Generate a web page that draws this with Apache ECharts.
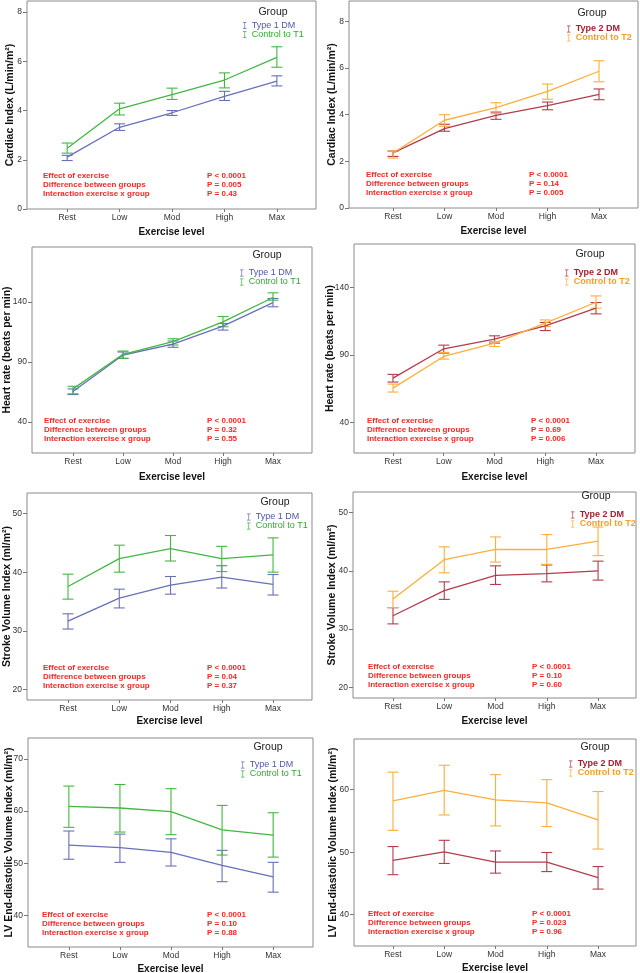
<!DOCTYPE html>
<html><head><meta charset="utf-8">
<script src="https://cdn.jsdelivr.net/npm/echarts@6/dist/echarts.min.js"></script>
<style>html,body{margin:0;padding:0;background:#fff}#c{width:640px;height:973px}</style>
</head><body><div id="c"></div><script>
// ---------- data ----------
const levels = ['Rest', 'Low', 'Mod', 'High', 'Max'];

// Cardiac index (L/min/m²)
const ciT1dmMean = [2.11, 3.32, 3.91, 4.58, 5.19];
const ciT1dmLow  = [1.97, 3.19, 3.80, 4.41, 5.00];
const ciT1dmHigh = [2.18, 3.46, 4.00, 4.78, 5.41];
const ciCtl1Mean = [2.47, 4.07, 4.65, 5.24, 6.16];
const ciCtl1Low  = [2.27, 3.82, 4.45, 4.92, 5.76];
const ciCtl1High = [2.68, 4.30, 4.91, 5.53, 6.59];
const ciT2dmMean = [2.36, 3.40, 3.97, 4.39, 4.87];
const ciT2dmLow  = [2.21, 3.29, 3.80, 4.21, 4.64];
const ciT2dmHigh = [2.44, 3.59, 4.11, 4.54, 5.10];
const ciCtl2Mean = [2.36, 3.76, 4.30, 5.00, 5.86];
const ciCtl2Low  = [2.14, 3.50, 4.04, 4.66, 5.41];
const ciCtl2High = [2.44, 4.00, 4.51, 5.31, 6.31];

// Heart rate (beats per min)
const hrT1dmMean = [65.4, 95.8, 104.9, 119.8, 139.4];
const hrT1dmLow  = [62.9, 93.0, 102.2, 116.5, 135.9];
const hrT1dmHigh = [67.6, 98.3, 107.4, 122.0, 142.8];
const hrCtl1Mean = [67.6, 96.4, 106.9, 123.4, 143.6];
const hrCtl1Low  = [63.5, 93.0, 104.1, 119.3, 141.4];
const hrCtl1High = [69.8, 99.1, 109.3, 127.8, 147.5];
const hrT2dmMean = [72.8, 94.6, 101.7, 111.6, 124.7];
const hrT2dmLow  = [69.9, 91.4, 98.8, 108.1, 120.5];
const hrT2dmHigh = [75.6, 97.3, 104.2, 114.1, 128.9];
const hrCtl2Mean = [65.4, 88.9, 98.8, 113.6, 129.1];
const hrCtl2Low  = [62.5, 86.9, 96.3, 111.1, 124.7];
const hrCtl2High = [68.4, 91.9, 100.0, 116.0, 133.8];

// Stroke volume index (ml/m²)
const sviT1dmMean = [31.65, 35.57, 37.8, 39.15, 37.9];
const sviT1dmLow  = [30.3, 33.9, 36.25, 37.3, 36.1];
const sviT1dmHigh = [32.9, 37.1, 39.26, 41.1, 39.6];
const sviCtl1Mean = [37.56, 42.3, 44.0, 42.3, 42.95];
const sviCtl1Low  = [35.4, 40.0, 41.9, 40.1, 40.0];
const sviCtl1High = [39.66, 44.6, 46.25, 44.4, 45.85];
const sviT2dmMean = [32.3, 36.6, 39.2, 39.5, 40.0];
const sviT2dmLow  = [30.9, 35.1, 37.66, 38.1, 38.4];
const sviT2dmHigh = [33.67, 38.1, 40.85, 41.0, 41.65];
const sviCtl2Mean = [35.15, 41.9, 43.65, 43.65, 45.1];
const sviCtl2Low  = [33.7, 39.65, 41.5, 41.1, 42.6];
const sviCtl2High = [36.5, 44.1, 45.8, 46.2, 47.5];

// LV end-diastolic volume index (ml/m²)
const lvT1dmMean = [53.5, 53.0, 52.1, 49.6, 47.4];
const lvT1dmLow  = [50.8, 50.2, 49.5, 46.5, 44.5];
const lvT1dmHigh = [56.2, 55.6, 54.7, 52.5, 50.2];
const lvCtl1Mean = [60.9, 60.6, 59.9, 56.4, 55.4];
const lvCtl1Low  = [56.9, 56.0, 55.5, 51.6, 51.2];
const lvCtl1High = [64.8, 65.1, 64.3, 61.1, 59.7];
const lvT2dmMean = [48.7, 50.05, 48.4, 48.4, 45.95];
const lvT2dmLow  = [46.4, 48.2, 46.65, 46.9, 44.1];
const lvT2dmHigh = [50.9, 51.9, 50.2, 49.95, 47.7];
const lvCtl2Mean = [58.2, 59.9, 58.35, 57.9, 55.15];
const lvCtl2Low  = [53.5, 55.95, 54.2, 54.1, 50.5];
const lvCtl2High = [62.8, 63.9, 62.4, 61.6, 59.7];

// tick labels
const ciTicks = [0, 2, 4, 6, 8];
const hrTicks = [40, 90, 140];
const sviTicks = [20, 30, 40, 50];
const lvT1Ticks = [40, 50, 60, 70];
const lvT2Ticks = [40, 50, 60];

// statistics text
const statLabels = ['Effect of exercise', 'Difference between groups', 'Interaction exercise x group'];
const pCiT1 = ['P < 0.0001', 'P = 0.005', 'P = 0.43'];
const pCiT2 = ['P < 0.0001', 'P = 0.14', 'P = 0.005'];
const pHrT1 = ['P < 0.0001', 'P = 0.32', 'P = 0.55'];
const pHrT2 = ['P < 0.0001', 'P = 0.69', 'P = 0.006'];
const pSviT1 = ['P < 0.0001', 'P = 0.04', 'P = 0.37'];
const pSviT2 = ['P < 0.0001', 'P = 0.10', 'P = 0.60'];
const pLvT1 = ['P < 0.0001', 'P = 0.10', 'P = 0.88'];
const pLvT2 = ['P < 0.0001', 'P = 0.023', 'P = 0.96'];

const groupNamesT1 = ['Type 1 DM', 'Control to T1'];
const groupNamesT2 = ['Type 2 DM', 'Control to T2'];
const yTitles = ['Cardiac Index (L/min/m²)', 'Heart rate (beats per min)', 'Stroke Volume Index (ml/m²)', 'LV End-diastolic Volume Index (ml/m²)'];
const xTitle = 'Exercise level';

// ---------- styles / layout ----------
const FONT = 'Liberation Sans, Arial, sans-serif';
const colT1dm = '#6870b8', colCtl1 = '#42b842', colT2dm = '#b43c4c', colCtl2 = '#ffae3c';
const txtT1dm = '#4e58a8', txtCtl1 = '#30aa30', txtT2dm = '#a81e30', txtCtl2 = '#ff9e1e';

const panels = [
  { box:[27,1,289,208], y:[0,8.45], x:[-0.766,4.746], ticks:ciTicks, title:yTitles[0], yGap:11, xGap:18,
    groups:groupNamesT1, series:[[ciT1dmMean,ciT1dmLow,ciT1dmHigh],[ciCtl1Mean,ciCtl1Low,ciCtl1High]], p:pCiT1,
    legend:[243,21], group:[273,12], ann:[43,176,207] },
  { box:[349,1,289,207], y:[0,8.87], x:[-0.854,4.757], ticks:ciTicks, title:yTitles[0], yGap:11, xGap:18,
    groups:groupNamesT2, series:[[ciT2dmMean,ciT2dmLow,ciT2dmHigh],[ciCtl2Mean,ciCtl2Low,ciCtl2High]], p:pCiT2,
    legend:[567,24.5], group:[592,13], ann:[366,175,529] },
  { box:[32,247,280,206], y:[14.3,185.6], x:[-0.82,4.78], ticks:hrTicks, title:yTitles[1], yGap:19, xGap:19.5,
    groups:groupNamesT1, series:[[hrT1dmMean,hrT1dmLow,hrT1dmHigh],[hrCtl1Mean,hrCtl1Low,hrCtl1High]], p:pHrT1,
    legend:[240,268.5], group:[267,255], ann:[44,421,207] },
  { box:[354,244,281,209], y:[17.3,172.3], x:[-0.768,4.768], ticks:hrTicks, title:yTitles[1], yGap:18, xGap:19.5,
    groups:groupNamesT2, series:[[hrT2dmMean,hrT2dmLow,hrT2dmHigh],[hrCtl2Mean,hrCtl2Low,hrCtl2High]], p:pHrT2,
    legend:[565,268.5], group:[590,254], ann:[367,421,531] },
  { box:[27,493,285,207], y:[18.2,53.5], x:[-0.8,4.76], ticks:sviTicks, title:yTitles[2], yGap:14, xGap:16.5,
    groups:groupNamesT1, series:[[sviT1dmMean,sviT1dmLow,sviT1dmHigh],[sviCtl1Mean,sviCtl1Low,sviCtl1High]], p:pSviT1,
    legend:[247,512.5], group:[275,502], ann:[43,668,207] },
  { box:[353,492,283,206], y:[18.2,53.5], x:[-0.78,4.74], ticks:sviTicks, title:yTitles[2], yGap:15, xGap:18,
    groups:groupNamesT2, series:[[sviT2dmMean,sviT2dmLow,sviT2dmHigh],[sviCtl2Mean,sviCtl2Low,sviCtl2High]], p:pSviT2,
    legend:[571,510.5], group:[596,496], ann:[368,667,532] },
  { box:[28,738,285,209], y:[34,74], x:[-0.8,4.78], ticks:lvT1Ticks, title:yTitles[3], yGap:13, xGap:17.5,
    groups:groupNamesT1, series:[[lvT1dmMean,lvT1dmLow,lvT1dmHigh],[lvCtl1Mean,lvCtl1Low,lvCtl1High]], p:pLvT1,
    legend:[241,760.5], group:[268,747], ann:[42,915,207] },
  { box:[354,739,282,207], y:[35,68.1], x:[-0.76,4.74], ticks:lvT2Ticks, title:yTitles[3], yGap:15, xGap:17.5,
    groups:groupNamesT2, series:[[lvT2dmMean,lvT2dmLow,lvT2dmHigh],[lvCtl2Mean,lvCtl2Low,lvCtl2High]], p:pLvT2,
    legend:[569,759.5], group:[595,747], ann:[368,914,532] }
];

const catIdx = levels.map((_, i) => i);
const grids = [], xAxes = [], yAxes = [], series = [], legends = [], graphics = [];

panels.forEach((pn, k) => {
  const isT2 = pn.groups === groupNamesT2;
  const lineCols = isT2 ? [colT2dm, colCtl2] : [colT1dm, colCtl1];
  const txtCols = isT2 ? [txtT2dm, txtCtl2] : [txtT1dm, txtCtl1];
  grids.push({ left: pn.box[0], top: pn.box[1], width: pn.box[2], height: pn.box[3],
    show: true, borderColor: '#8a8a8a', borderWidth: 1, containLabel: false, outerBoundsMode: 'none' });
  xAxes.push({ gridIndex: k, type: 'value', min: pn.x[0], max: pn.x[1], position: 'bottom',
    axisLine: { show: false, onZero: false },
    axisTick: { show: true, customValues: catIdx, length: 3, lineStyle: { color: '#777' } },
    axisLabel: { customValues: catIdx, formatter: v => levels[Math.round(v)], fontSize: 8.5, color: '#333', margin: 4, fontFamily: FONT },
    splitLine: { show: false },
    name: xTitle, nameLocation: 'middle', nameGap: pn.xGap, nameMoveOverlap: false,
    nameTextStyle: { fontSize: 10, fontWeight: 'bold', color: '#111', fontFamily: FONT } });
  yAxes.push({ gridIndex: k, type: 'value', min: pn.y[0], max: pn.y[1], position: 'left',
    axisLine: { show: false, onZero: false },
    axisTick: { show: true, customValues: pn.ticks, length: 4, lineStyle: { color: '#777' } },
    axisLabel: { customValues: pn.ticks, fontSize: 8.5, color: '#333', margin: 5, fontFamily: FONT },
    splitLine: { show: false },
    name: pn.title, nameLocation: 'middle', nameRotate: 90, nameGap: pn.yGap, nameMoveOverlap: false,
    nameTextStyle: { fontSize: 10.5, fontWeight: 'bold', color: '#111', fontFamily: FONT } });

  pn.series.forEach((s, j) => {
    const [mean, lo, hi] = s;
    series.push({ type: 'line', name: pn.groups[j], xAxisIndex: k, yAxisIndex: k,
      data: mean.map((m, i) => [i, m]), symbol: 'none', silent: true,
      lineStyle: { color: lineCols[j], width: 1.3 }, itemStyle: { color: lineCols[j] }, z: 3 });
    series.push({ type: 'custom', name: pn.groups[j], xAxisIndex: k, yAxisIndex: k,
      coordinateSystem: 'cartesian2d', silent: true, z: 2,
      itemStyle: { color: lineCols[j] },
      data: lo.map((l, i) => [i, l, hi[i]]),
      renderItem: (params, api) => {
        const x = api.value(0);
        const pLo = api.coord([x, api.value(1)]);
        const pHi = api.coord([x, api.value(2)]);
        const w = 5.5;
        const st = { stroke: lineCols[j], lineWidth: 1.1 };
        return { type: 'group', children: [
          { type: 'line', shape: { x1: pLo[0], y1: pLo[1], x2: pHi[0], y2: pHi[1] }, style: st },
          { type: 'line', shape: { x1: pLo[0] - w, y1: pLo[1], x2: pLo[0] + w, y2: pLo[1] }, style: st },
          { type: 'line', shape: { x1: pHi[0] - w, y1: pHi[1], x2: pHi[0] + w, y2: pHi[1] }, style: st }
        ] };
      } });
  });

  legends.push({ left: pn.legend[0], top: pn.legend[1], orient: 'vertical', itemGap: 0,
    itemWidth: 4, itemHeight: 7, selectedMode: false, padding: 0,
    icon: 'path://M0,0h5v1h-2v8h2v1h-5v-1h2v-8h-2z',
    textStyle: { fontSize: 9, lineHeight: 9, fontFamily: FONT, fontWeight: isT2 ? 'bold' : 'normal' },
    data: pn.groups.map((g, j) => ({ name: g, itemStyle: { color: lineCols[j] }, textStyle: { color: txtCols[j] } })) });

  graphics.push({ type: 'text', x: pn.group[0], y: pn.group[1],
    style: { text: 'Group', fontSize: 10.5, fill: '#222', fontFamily: FONT, align: 'center', verticalAlign: 'middle' } });
  statLabels.forEach((t, i) => {
    const y = pn.ann[1] + i * 9;
    graphics.push({ type: 'text', x: pn.ann[0], y: y,
      style: { text: t, fontSize: 8, fontWeight: 'bold', fill: '#ff2626', fontFamily: FONT, verticalAlign: 'middle' } });
    graphics.push({ type: 'text', x: pn.ann[2], y: y,
      style: { text: pn.p[i], fontSize: 8, fontWeight: 'bold', fill: '#ff2626', fontFamily: FONT, verticalAlign: 'middle' } });
  });
});

const chart = echarts.init(document.getElementById('c'), null, { renderer: 'canvas' });
chart.setOption({
  animation: false,
  backgroundColor: '#fff',
  textStyle: { fontFamily: FONT },
  grid: grids, xAxis: xAxes, yAxis: yAxes, legend: legends, series: series,
  graphic: { elements: graphics }
});
</script></body></html>
